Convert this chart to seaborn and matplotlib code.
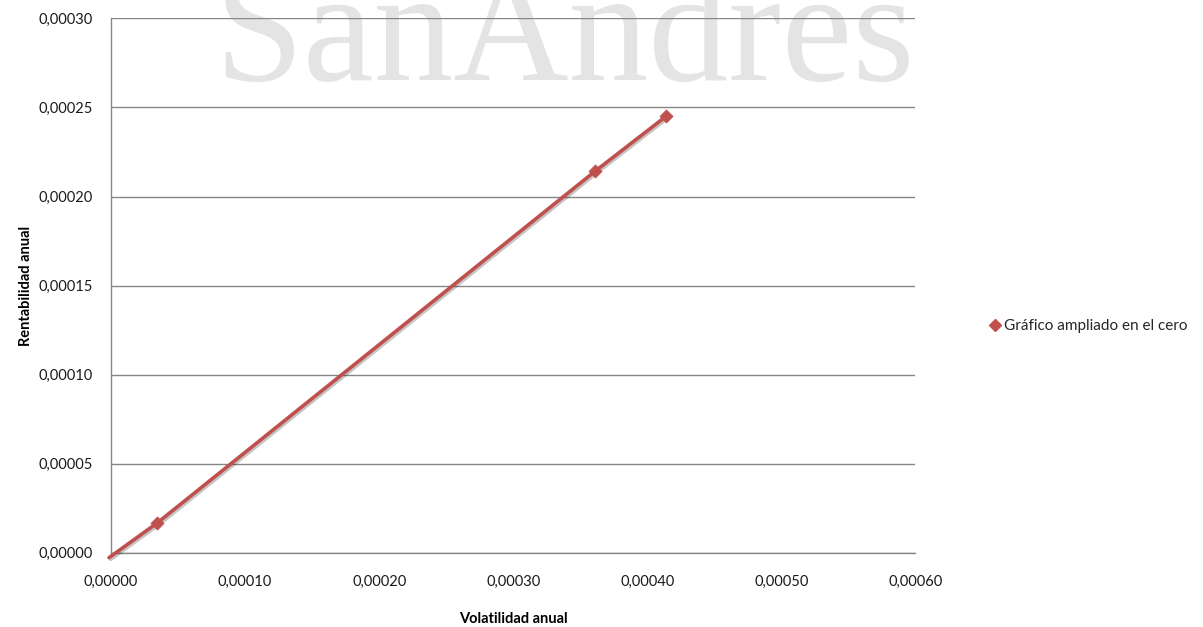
import matplotlib
matplotlib.use("Agg")
import matplotlib.pyplot as plt
from matplotlib.lines import Line2D
from matplotlib.ticker import FuncFormatter, MultipleLocator
import matplotlib.patheffects as pe
import seaborn as sns
import pandas as pd

# Efficient frontier segment zoomed near the origin
volatilidad = [-0.0000015, 0.0000346, 0.0003612, 0.0004142]
rentabilidad = [-0.0000029, 0.0000167, 0.0002143, 0.0002452]
serie = "Gráfico ampliado en el cero"

x_ticks_max = 0.0006
y_ticks_max = 0.0003

sns.set_theme(style="white")
plt.rcParams["font.family"] = ["Lato", "DejaVu Sans"]

df = pd.DataFrame({"vol": volatilidad, "rent": rentabilidad})

fig = plt.figure(figsize=(12.03, 6.27), dpi=100)
ax = fig.add_axes([0.0923, 0.1188, 0.6687, 0.8517])
ax.set_zorder(1)
ax.patch.set_alpha(0)

# light watermark behind the plot
fig.text(0.469, 0.872, "SanAndres", ha="center", va="baseline",
         fontsize=115, family="Liberation Serif", color="#e4e4e4", zorder=0)

red = "#C0504D"
shadow = [pe.SimpleLineShadow(offset=(1.2, -1.2), alpha=0.25), pe.Normal()]
sns.lineplot(data=df, x="vol", y="rent", sort=False, ax=ax, color=red,
             linewidth=2.6, legend=False, clip_on=False, zorder=3,
             path_effects=shadow)
sns.scatterplot(data=df.iloc[1:], x="vol", y="rent", ax=ax, color=red,
                marker="D", s=45, edgecolor=red, linewidth=0.5,
                legend=False, clip_on=False, zorder=4)

ax.set_xlim(0, x_ticks_max)
ax.set_ylim(0, y_ticks_max)
ax.xaxis.set_major_locator(MultipleLocator(0.0001))
ax.yaxis.set_major_locator(MultipleLocator(0.00005))
fmt = FuncFormatter(lambda v, p: f"{v:.5f}".replace(".", ","))
ax.xaxis.set_major_formatter(fmt)
ax.yaxis.set_major_formatter(fmt)

ax.yaxis.grid(True, color="#868686", linewidth=1.0)
ax.xaxis.grid(False)
ax.set_axisbelow(True)
for side in ("top", "right"):
    ax.spines[side].set_visible(False)
for side in ("left", "bottom"):
    ax.spines[side].set_color("#868686")
    ax.spines[side].set_linewidth(1.0)

ax.tick_params(axis="both", length=0, labelsize=10.5, labelcolor="#1a1a1a")
ax.tick_params(axis="y", pad=13)
ax.tick_params(axis="x", pad=16)

ax.set_xlabel("Volatilidad anual", fontsize=10.5, fontweight="bold",
              color="#000000", labelpad=17)
ax.set_ylabel("Rentabilidad anual", fontsize=10.5, fontweight="bold",
              color="#000000", labelpad=4)

handle = Line2D([], [], color=red, marker="D", linestyle="none", markersize=6)
fig.legend([handle], [serie], loc="center left",
           bbox_to_anchor=(0.818, 0.48), frameon=False, fontsize=11,
           handlelength=0.6, handletextpad=0.3, borderaxespad=0)

fig.savefig("out.png", dpi=100)
